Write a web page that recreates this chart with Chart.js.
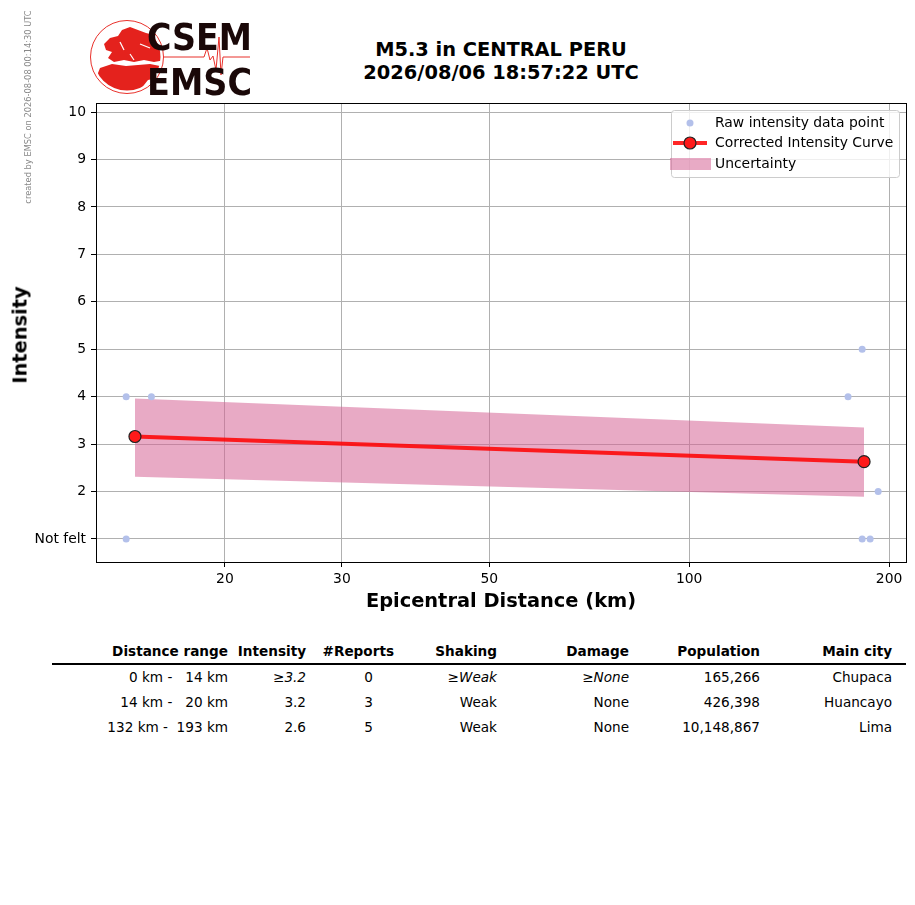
<!DOCTYPE html>
<html>
<head>
<meta charset="utf-8">
<script src="https://cdn.jsdelivr.net/npm/chart.js@4.4.1/dist/chart.umd.min.js"></script>
<style>
  body { margin: 0; background: #fff; font-family: 'DejaVu Sans', sans-serif; }
  #page { position: relative; width: 915px; height: 905px; overflow: hidden; }
  .abs { position: absolute; white-space: pre; color: #000; }
  #title { left: 301px; width: 400px; top: 38px; text-align: center; font-weight: bold; font-size: 19.4px; line-height: 23px; }
  #xlabel { left: 301px; width: 400px; top: 589px; text-align: center; font-weight: bold; font-size: 19.4px; }
  #ylabel { left: 20px; top: 335px; font-weight: bold; font-size: 19.4px; transform: translate(-50%, -50%) rotate(-90deg); }
  #side { left: 28px; top: 107px; font-size: 8.3px; color: #888; transform: translate(-50%, -50%) rotate(-90deg); }
  .cell { position: absolute; font-size: 13.6px; white-space: pre; transform: translateY(-50%); }
  .hd { font-weight: bold; }
  #rule { position: absolute; left: 52px; width: 854px; top: 663px; height: 2px; background: #000; }
</style>
</head>
<body>
<div id="page">
  <canvas id="logo" width="300" height="100" style="position:absolute;left:0;top:0"></canvas>
  <div class="abs" id="side">created by EMSC on 2026-08-08 00:14:30 UTC</div>
  <div class="abs" id="title">M5.3 in CENTRAL PERU
2026/08/06 18:57:22 UTC</div>
  <canvas id="myChart" width="915" height="620" style="position:absolute;left:0;top:0"></canvas>
  <div class="abs" id="ylabel">Intensity</div>
  <div class="abs" id="xlabel">Epicentral Distance (km)</div>
  <div id="rule"></div>
  <div id="table"></div>
</div>
<script>
// raw reports
const rawDist = [14.2, 15.5, 14.2, 173.5, 182.2, 192.6, 182.2, 187.3];
const rawIntensity = [4, 4, 1, 4, 5, 2, 1, 1];

// corrected curve + uncertainty band
const curveDist = [14.64, 183.4];
const curveIntensity = [3.16, 2.63];
const bandUpper = [3.96, 3.35];
const bandLower = [2.31, 1.89];

const xTicks = [20, 30, 50, 100, 200];
const yTicks = [1, 2, 3, 4, 5, 6, 7, 8, 9, 10];

// table
const tableHeaders = ['Distance range', 'Intensity', '#Reports', 'Shaking', 'Damage', 'Population', 'Main city'];
const distRanges = ['0 km -   14 km', '14 km -   20 km', '132 km -  193 km'];
const intensities = ['3.2', '3.2', '2.6'];
const reports = ['0', '3', '5'];
const shaking = ['Weak', 'Weak', 'Weak'];
const damage = ['None', 'None', 'None'];
const population = ['165,266', '426,398', '10,148,867'];
const mainCity = ['Chupaca', 'Huancayo', 'Lima'];
const lowerBoundRow = [true, false, false];

const rawColor = '#b3c0ea';
const curveColor = 'rgba(255,0,0,0.85)';
const bandColor = 'rgba(214,100,150,0.55)';

function pts(xs, ys) {
  return xs.map((x, i) => ({ x: x, y: ys[i] }));
}

// ---- logo ----
(function drawLogo() {
  const c = document.getElementById('logo').getContext('2d');
  const cx = 127, cy = 57, r = 36.5;
  c.strokeStyle = '#e8302a';
  c.lineWidth = 1;
  c.beginPath(); c.arc(cx, cy, r, 0, Math.PI * 2); c.stroke();
  c.save();
  c.beginPath(); c.arc(cx, cy, r - 3, 0, Math.PI * 2); c.clip();
  c.fillStyle = '#e4221d';
  // europe
  c.beginPath();
  c.moveTo(104, 44); c.lineTo(110, 38); c.lineTo(118, 36); c.lineTo(122, 30);
  c.lineTo(130, 27); c.lineTo(138, 30); c.lineTo(146, 33); c.lineTo(158, 36);
  c.lineTo(166, 42); c.lineTo(166, 60); c.lineTo(154, 62); c.lineTo(144, 60);
  c.lineTo(134, 62); c.lineTo(124, 60); c.lineTo(114, 62); c.lineTo(108, 58);
  c.lineTo(112, 52); c.lineTo(106, 50); c.closePath();
  c.fill();
  // africa + middle east
  c.beginPath();
  c.moveTo(100, 68); c.lineTo(112, 64); c.lineTo(126, 66); c.lineTo(138, 65);
  c.lineTo(150, 64); c.lineTo(160, 66); c.lineTo(166, 72); c.lineTo(158, 78);
  c.lineTo(148, 80); c.lineTo(140, 90); c.lineTo(120, 94); c.lineTo(100, 88);
  c.lineTo(96, 78); c.closePath();
  c.fill();
  c.strokeStyle = '#fff';
  c.lineWidth = 1.2;
  c.beginPath(); c.moveTo(120, 42); c.lineTo(124, 50); c.stroke();
  c.beginPath(); c.moveTo(140, 44); c.lineTo(150, 48); c.stroke();
  c.beginPath(); c.moveTo(130, 54); c.lineTo(134, 60); c.stroke();
  c.restore();
  // seismogram
  c.strokeStyle = '#e8302a';
  c.lineWidth = 1;
  c.beginPath();
  c.moveTo(163, 57); c.lineTo(204, 57); c.lineTo(207, 48); c.lineTo(210, 60);
  c.lineTo(213, 56); c.lineTo(216, 70); c.lineTo(219, 37); c.lineTo(221, 75);
  c.lineTo(223, 57); c.lineTo(250, 57);
  c.stroke();
  c.fillStyle = '#1a0808';
  c.font = 'bold 38px "DejaVu Sans"';
  c.textBaseline = 'alphabetic';
  c.fillText('CSEM', 147, 50, 105);
  c.fillText('EMSC', 147, 95, 105);
})();

// ---- chart ----
const frameAndLegend = {
  id: 'frameAndLegend',
  afterDraw(chart) {
    const c = chart.ctx;
    const a = chart.chartArea;
    c.save();
    c.strokeStyle = '#000';
    c.lineWidth = 1;
    c.strokeRect(Math.round(a.left) + 0.5, Math.round(a.top) + 0.5,
      Math.round(a.right - a.left), Math.round(a.bottom - a.top));

    // legend box
    const lx = 671, ly = 110, lw = 228, lh = 67;
    c.fillStyle = 'rgba(255,255,255,0.8)';
    c.strokeStyle = '#cccccc';
    c.beginPath();
    c.roundRect(lx + 0.5, ly + 0.5, lw, lh, 3);
    c.fill(); c.stroke();

    const ds = chart.data.datasets;
    c.font = '13.9px "DejaVu Sans"';
    c.textBaseline = 'middle';
    c.fillStyle = '#000';
    // raw points
    c.fillText(ds[1].label, 715, 123);
    c.fillStyle = rawColor;
    c.beginPath(); c.arc(690, 123, 3.5, 0, Math.PI * 2); c.fill();
    // curve
    c.fillStyle = '#000';
    c.fillText(ds[0].label, 715, 143);
    c.strokeStyle = curveColor;
    c.lineWidth = 4;
    c.beginPath(); c.moveTo(673, 143); c.lineTo(707, 143); c.stroke();
    c.fillStyle = '#ff1a1a';
    c.strokeStyle = '#222';
    c.lineWidth = 1.2;
    c.beginPath(); c.arc(690, 143, 6, 0, Math.PI * 2); c.fill(); c.stroke();
    // band
    c.fillStyle = '#000';
    c.fillText(ds[3].label, 715, 164);
    c.fillStyle = bandColor;
    c.fillRect(670, 158, 41, 12);
    c.restore();
  }
};

const ctx = document.getElementById('myChart');

new Chart(ctx, {
  type: 'scatter',
  data: {
    datasets: [
      {
        label: 'Corrected Intensity Curve',
        data: pts(curveDist, curveIntensity),
        showLine: true,
        borderColor: curveColor,
        borderWidth: 4,
        pointRadius: 6,
        pointBackgroundColor: '#ff1a1a',
        pointBorderColor: '#222',
        pointBorderWidth: 1.2,
        fill: false,
      },
      {
        label: 'Raw intensity data point',
        data: pts(rawDist, rawIntensity),
        pointRadius: 3.5,
        pointBackgroundColor: rawColor,
        pointBorderWidth: 0,
      },
      {
        label: 'Uncertainty upper',
        data: pts(curveDist, bandUpper),
        showLine: true,
        borderWidth: 0,
        pointRadius: 0,
        fill: false,
      },
      {
        label: 'Uncertainty',
        data: pts(curveDist, bandLower),
        showLine: true,
        borderWidth: 0,
        pointRadius: 0,
        backgroundColor: bandColor,
        fill: '-1',
      },
    ]
  },
  options: {
    responsive: false,
    animation: false,
    layout: { padding: { top: 103, right: 9, left: 0, bottom: 0 } },
    scales: {
      x: {
        type: 'logarithmic',
        min: 12.79,
        max: 212.1,
        afterFit: function(scale) { scale.height = 58; },
        afterBuildTicks: function(scale) {
          scale.ticks = xTicks.map(v => ({ value: v }));
        },
        ticks: {
          autoSkip: false,
          maxRotation: 0,
          padding: 4,
          color: '#000',
          font: { size: 13.9, family: "'DejaVu Sans'" },
          callback: function(value) { return String(value); }
        },
        grid: { color: '#b0b0b0', tickColor: '#000', tickLength: 5, lineWidth: 1 },
        border: { display: false }
      },
      y: {
        min: 0.515,
        max: 10.19,
        afterFit: function(scale) { scale.width = 96; },
        afterBuildTicks: function(scale) {
          scale.ticks = yTicks.map(v => ({ value: v }));
        },
        ticks: {
          padding: 5,
          color: '#000',
          font: { size: 13.9, family: "'DejaVu Sans'" },
          callback: function(value) { return value === 1 ? 'Not felt' : String(value); }
        },
        grid: { color: '#b0b0b0', tickColor: '#000', tickLength: 5, lineWidth: 1 },
        border: { display: false }
      }
    },
    plugins: {
      legend: { display: false },
      tooltip: { enabled: false }
    }
  },
  plugins: [frameAndLegend]
});

// ---- table ----
const colRight = [228, 306, 394, 497, 629, 760, 892];
const valRight = [228, 306, 373, 497, 629, 760, 892];
const headerY = 651;
const rowY = [677, 702, 727];
const tbl = document.getElementById('table');

function addCell(html, right, y, cls) {
  const d = document.createElement('div');
  d.className = 'cell' + (cls ? ' ' + cls : '');
  d.innerHTML = html;
  d.style.right = (915 - right) + 'px';
  d.style.top = y + 'px';
  tbl.appendChild(d);
}

tableHeaders.forEach((h, i) => addCell(h, colRight[i], headerY, 'hd'));
rowY.forEach((y, r) => {
  const lb = lowerBoundRow[r];
  const wrap = s => lb ? '\u2265<i>' + s + '</i>' : s;
  const cols = [distRanges[r], wrap(intensities[r]), reports[r], wrap(shaking[r]),
    wrap(damage[r]), population[r], mainCity[r]];
  cols.forEach((v, i) => addCell(v, valRight[i], y));
});
</script>
</body>
</html>
